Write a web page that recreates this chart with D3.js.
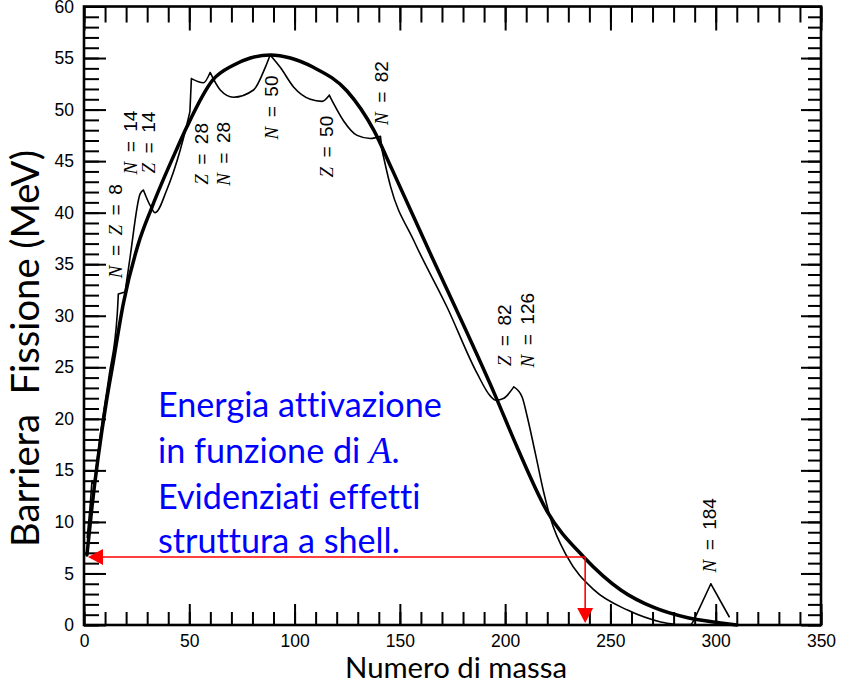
<!DOCTYPE html>
<html>
<head>
<meta charset="utf-8">
<script src="https://cdn.jsdelivr.net/npm/d3@7"></script>
<style>
  html, body { margin: 0; padding: 0; background: #fff; }
  svg { display: block; }
  text { white-space: pre; font-variant-ligatures: none; }
</style>
</head>
<body>
<svg id="chart" width="846" height="684"></svg>
<script>
// Liquid-drop fission barrier (smooth curve), MeV vs mass number A
const liquidDropA = [1.4, 3.7, 10.5, 13.8, 18.7, 25.7, 32.2, 44.1, 48.8, 61.3, 70.9, 79, 88.5, 98, 108.9,
  124.9, 137.6, 146.3, 165, 180, 195, 205.8, 220, 237.3, 254.9, 270.6, 286.7, 302.4, 310];
const liquidDropE = [6.8, 11.3, 21.5, 25.4, 31.2, 36.9, 40.5, 46.2, 48.3, 52.9, 54.3, 55.0, 55.3, 55.0, 54.1,
  51.8, 48.0, 44.2, 35.8, 29.2, 22.4, 17.2, 11.0, 6.6, 3.4, 1.7, 0.7, 0.2, 0];

// Barrier including shell corrections
const shellA = [1.5, 3.0, 3.8, 4.8, 8.0, 12.0, 15.8, 16.3, 19.5, 21.9, 26.6, 28.2, 31.4, 33.8, 39.3,
  45.6, 48.8, 50.3, 51.0, 56.7, 59.9, 64.7, 71.0, 80.5, 86.1, 88.4, 93.2, 99.5, 107.5, 113.0,
  116.5, 118.5, 123.3, 129.7, 136.0, 140.8, 141.4, 145.5, 156.6, 172.5, 186.7, 193.0, 195.6, 199.4, 204.1,
  208.1, 210.5, 214.4, 218.4, 221.6, 229.5, 242.2, 258.1, 273.9, 281.0, 288.0, 289.7, 297.7, 306.4];
const shellE = [8.5, 11.8, 14.0, 13.6, 18.8, 24.3, 30.2, 32.1, 32.3, 35.7, 41.8, 42.2, 40.7, 40.0, 42.2,
  46.0, 48.5, 49.8, 53.0, 52.6, 53.6, 51.9, 51.2, 51.9, 54.1, 55.3, 54.1, 52.2, 51.0, 50.8,
  51.4, 50.6, 48.9, 47.5, 47.2, 47.4, 46.2, 42.6, 37.3, 30.8, 24.4, 22.2, 21.8, 22.0, 23.1,
  22.1, 20.2, 16.6, 12.8, 10.3, 6.6, 3.4, 1.45, 0.3, 0.05, 0.05, 0.5, 4.0, 0.8];
// Mass numbers where the shell curve has a cusp or a step
const shellKinkA = [3.8, 4.8, 16.3, 19.5, 28.2, 50.3, 51.0, 59.9, 88.4, 116.5, 140.8, 141.4, 204.1, 281.0, 289.7, 297.7];

// Magic-number labels and their anchor points (A, MeV)
const magicLabels = ["N = Z = 8", "N = 14", "Z = 14", "Z = 28", "N = 28", "N = 50", "Z = 50", "N = 82", "Z = 82", "N = 126", "N = 184"];
const magicLabelA = [18.1, 25.2, 33.8, 59.0, 69.4, 92.2, 118.4, 144.6, 202.6, 213.5, 300.0];
const magicLabelE = [38.2, 46.8, 46.8, 45.7, 45.7, 50.2, 46.4, 51.6, 28.1, 28.6, 8.7];

// Axis ticks
const xMajorTicks = [0, 50, 100, 150, 200, 250, 300, 350];
const yMajorTicks = [0, 5, 10, 15, 20, 25, 30, 35, 40, 45, 50, 55, 60];

// U-238 reading on the liquid-drop curve
const uraniumA = 238;
const uraniumBarrier = 6.6;

const noteLines = ["Energia attivazione", "in funzione di ", "Evidenziati effetti", "struttura a shell."];
const xTitle = "Numero di massa";
const yTitle = "Barriera  Fissione (MeV)";

const svg = d3.select("#chart");
const x = d3.scaleLinear().domain([0, 350]).range([84, 821]);
const y = d3.scaleLinear().domain([0, 60]).range([625, 6.5]);

const ink = "#000";

// ---- axes: inward ticks on all four sides ----
function styleAxis(g, width) {
  g.select(".domain").remove();
  g.selectAll(".tick line").attr("stroke", ink).attr("stroke-width", width);
  g.selectAll(".tick text").attr("fill", ink)
    .style("font-family", "'Liberation Sans', Arial, sans-serif").style("font-size", "17.5px");
}
const xMinor = d3.range(0, 351, 10);
const yMinor = d3.range(0, 61, 1);

svg.append("g").attr("transform", `translate(0,${y(0)})`)
  .call(d3.axisBottom(x).tickValues(xMinor).tickSize(-13).tickFormat(""))
  .call(g => styleAxis(g, 2));
svg.append("g").attr("transform", `translate(0,${y(0)})`)
  .call(d3.axisBottom(x).tickValues(xMajorTicks).tickSize(-21).tickPadding(10).tickFormat(d3.format("d")))
  .call(g => styleAxis(g, 2));
svg.append("g").attr("transform", `translate(0,${y(60)})`)
  .call(d3.axisTop(x).tickValues(xMinor).tickSize(-16).tickFormat(""))
  .call(g => styleAxis(g, 2));
svg.append("g").attr("transform", `translate(0,${y(60)})`)
  .call(d3.axisTop(x).tickValues(xMajorTicks).tickSize(-24).tickFormat(""))
  .call(g => styleAxis(g, 2));

svg.append("g").attr("transform", `translate(${x(0)},0)`)
  .call(d3.axisLeft(y).tickValues(yMinor).tickSize(-15).tickFormat(""))
  .call(g => styleAxis(g, 2));
svg.append("g").attr("transform", `translate(${x(0)},0)`)
  .call(d3.axisLeft(y).tickValues(yMajorTicks).tickSize(-22).tickPadding(10).tickFormat(d3.format("d")))
  .call(g => styleAxis(g, 2));
svg.append("g").attr("transform", `translate(${x(350)},0)`)
  .call(d3.axisRight(y).tickValues(yMinor).tickSize(-13).tickFormat(""))
  .call(g => styleAxis(g, 2));
svg.append("g").attr("transform", `translate(${x(350)},0)`)
  .call(d3.axisRight(y).tickValues(yMajorTicks).tickSize(-20).tickFormat(""))
  .call(g => styleAxis(g, 2));

// frame
svg.append("rect")
  .attr("x", x(0)).attr("y", y(60))
  .attr("width", x(350) - x(0)).attr("height", y(0) - y(60))
  .attr("fill", "none").attr("stroke", ink).attr("stroke-width", 2.6);

// ---- curves ----
const plot = svg.append("g");

const smoothLine = d3.line().x(d => x(d[0])).y(d => y(d[1])).curve(d3.curveMonotoneX);
const straightLine = d3.line().x(d => x(d[0])).y(d => y(d[1]));

plot.append("path")
  .attr("d", smoothLine(liquidDropA.map((a, i) => [a, liquidDropE[i]])))
  .attr("fill", "none").attr("stroke", ink).attr("stroke-width", 3.5)
  .attr("stroke-linejoin", "round").attr("stroke-linecap", "round");

// shell curve: smooth pieces joined at sharp cusps/steps
const shellSegments = [];
let current = [];
shellA.forEach((a, i) => {
  current.push([a, shellE[i]]);
  if (shellKinkA.includes(a) && current.length > 1) {
    shellSegments.push(current);
    current = [[a, shellE[i]]];
  }
});
if (current.length > 1) shellSegments.push(current);

plot.append("path")
  .attr("d", shellSegments.map(s => (s.length > 2 ? smoothLine(s) : straightLine(s))).join(""))
  .attr("fill", "none").attr("stroke", ink).attr("stroke-width", 1.6)
  .attr("stroke-linejoin", "round").attr("stroke-linecap", "round");

// ---- magic-number labels (rotated, reading upward) ----
magicLabels.forEach((lab, i) => {
  const t = svg.append("text")
    .attr("transform", `translate(${x(magicLabelA[i])},${y(magicLabelE[i])}) rotate(-90)`)
    .attr("text-anchor", "middle")
    .attr("fill", ink)
    .style("font-size", "19px");
  lab.split(/(N|Z)/).filter(s => s.length).forEach(part => {
    const ts = t.append("tspan").text(part.replace(/ /g, "\u2002"));
    if (part === "N" || part === "Z") {
      ts.style("font-family", "'Liberation Serif', 'Times New Roman', serif").style("font-style", "italic");
    } else {
      ts.style("font-family", "'Liberation Sans', Arial, sans-serif");
    }
  });
});

// ---- U-238 guide arrows ----
const red = "#ff0000";
const cx = x(uraniumA), cy = y(uraniumBarrier);
const tipX = x(0) + 4, tipY = y(0) - 2;
const head = 15, halfW = 8;
svg.append("line").attr("x1", cx).attr("y1", cy).attr("x2", tipX + head).attr("y2", cy)
  .attr("stroke", red).attr("stroke-width", 1.6);
svg.append("line").attr("x1", cx).attr("y1", cy).attr("x2", cx).attr("y2", tipY - head)
  .attr("stroke", red).attr("stroke-width", 1.6);
svg.append("path")
  .attr("d", `M${tipX},${cy} L${tipX + head},${cy - halfW} L${tipX + head},${cy + halfW} Z`)
  .attr("fill", red);
svg.append("path")
  .attr("d", `M${cx},${tipY} L${cx - halfW},${tipY - head} L${cx + halfW},${tipY - head} Z`)
  .attr("fill", red);

// ---- text helpers ----
function fitFont(sel, target) {
  const w = sel.node().getComputedTextLength();
  const fs = parseFloat(sel.style("font-size"));
  const nf = fs * target / w;
  sel.style("font-size", nf + "px");
  return nf;
}

// note in blue
const blue = "#0000ff";
const textFont = "Lato, 'Open Sans', sans-serif";
const noteX = 158;
const noteBase = [417, 463, 509, 553];
const noteTexts = noteLines.map((line, i) => svg.append("text")
  .attr("x", noteX).attr("y", noteBase[i])
  .attr("fill", blue)
  .style("font-family", textFont).style("font-size", "26px")
  .text(line));
const noteSize = fitFont(noteTexts[0], 284);
noteTexts.forEach(t => t.style("font-size", noteSize + "px"));
noteTexts[1].append("tspan")
  .style("font-family", "'Liberation Serif', 'DejaVu Serif', serif").style("font-style", "italic")
  .style("font-size", (noteSize * 1.08) + "px")
  .text("A");
noteTexts[1].append("tspan").text(".");

// axis titles
const xt = svg.append("text")
  .attr("x", 456).attr("y", 678).attr("text-anchor", "middle")
  .attr("fill", ink).style("font-family", textFont).style("font-size", "26px")
  .text(xTitle);
fitFont(xt, 222);

const yt = svg.append("text")
  .attr("transform", "translate(38.5,348.5) rotate(-90)").attr("text-anchor", "middle")
  .attr("fill", ink).style("font-family", textFont).style("font-size", "30px")
  .text(yTitle);
fitFont(yt, 397);
</script>
</body>
</html>
